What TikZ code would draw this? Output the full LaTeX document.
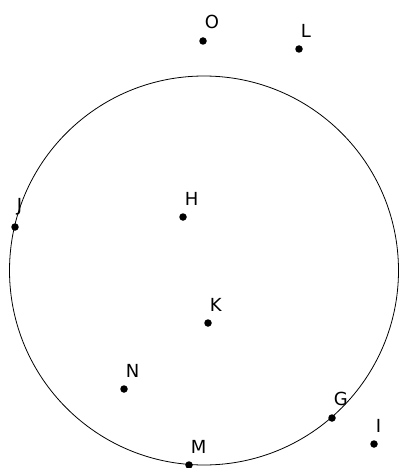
\documentclass[tikz,border=0pt]{standalone}
\usepackage{fontspec}
\setmainfont{DejaVu Sans}
\usetikzlibrary{positioning}
\tikzset{
  dotpt/.style={circle, fill=black, inner sep=0pt, minimum size=7.5pt},
  lbl/.style={inner sep=0pt, font=\fontsize{18}{21}\selectfont}
}

\begin{document}
\begin{tikzpicture}[x=1pt, y=-1pt]
          % Page frame, same size as the reference
          \useasboundingbox (0,0) rectangle (400,468);

          % The big circle
          \coordinate (C) at (204,270.5);
          \draw[line width=0.8pt] (C) circle (194.5);

          % Points and their letters
          \foreach \n/\x/\y in {O/203/41, L/299/49, H/183/217, J/15/227,
                                K/208/323, N/124/389, G/332/418, I/374/444, M/189/465} {
            \node[dotpt] (\n) at (\x,\y) {};
            \node[lbl, above right=9pt and -1pt of \n] (l\n) {\n};
          }
        \end{tikzpicture}
\end{document}
